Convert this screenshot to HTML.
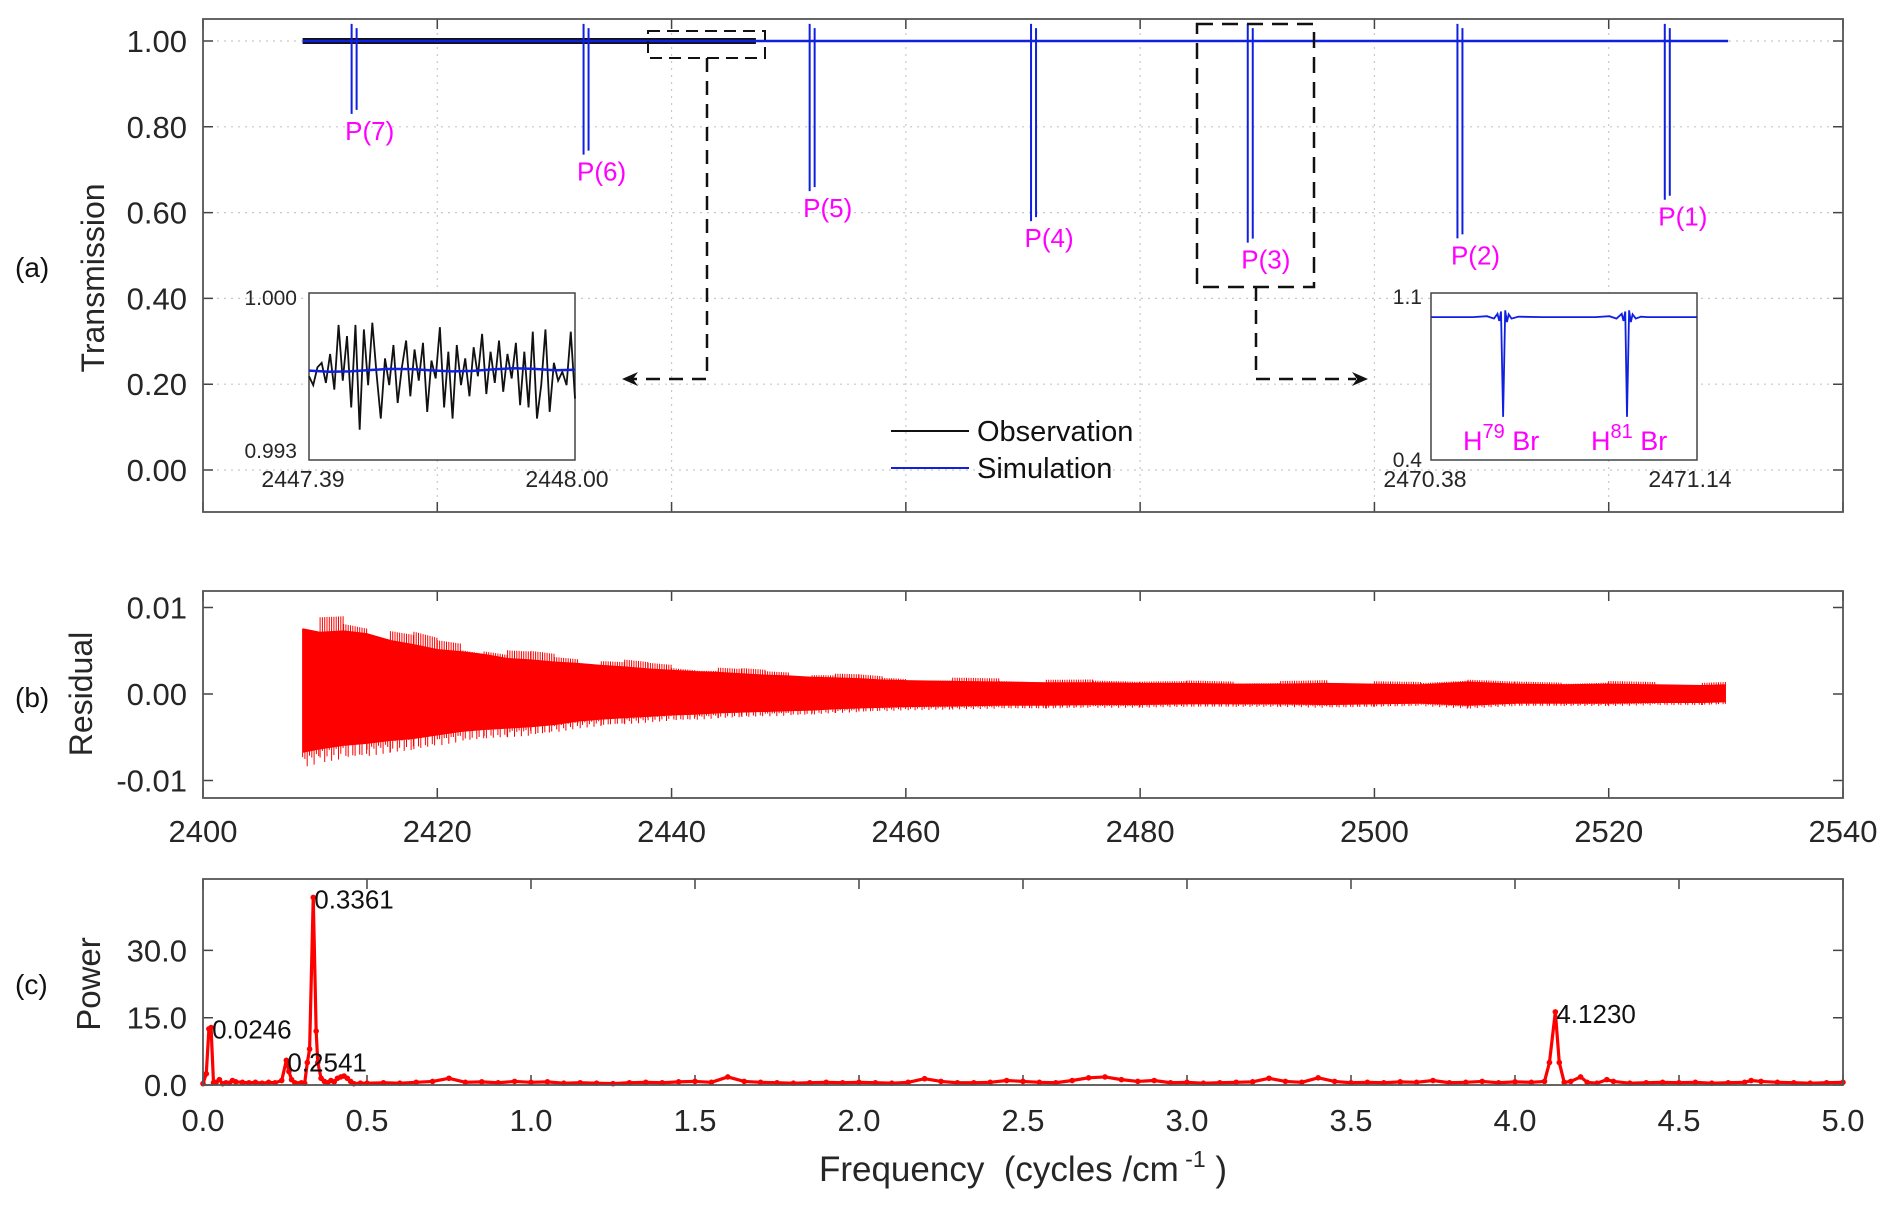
<!DOCTYPE html>
<html><head><meta charset="utf-8"><style>
html,body{margin:0;padding:0;background:#fff;}
svg{display:block;font-family:"Liberation Sans",Arial,sans-serif;}
</style></head><body>
<svg id="fig" width="1892" height="1207" viewBox="0 0 1892 1207" xmlns="http://www.w3.org/2000/svg">
<g id="g-a"></g>
<g id="g-b"></g>
<g id="g-c"></g>
</svg>
<script>
// ---------- Panel (a) data ----------
const lineLabels = ["P(7)","P(6)","P(5)","P(4)","P(3)","P(2)","P(1)"];
const lineFreqs = [2412.9, 2432.7, 2452.0, 2470.9, 2489.4, 2507.3, 2525.0];
const lineDepths = [0.83, 0.735, 0.65, 0.58, 0.53, 0.54, 0.63];
const obsRange = [2408.5, 2447.2];
const simRange = [2408.5, 2530.2];
const aYTicks = [0, 0.2, 0.4, 0.6, 0.8, 1.0];
const aYTickLabels = ["0.00","0.20","0.40","0.60","0.80","1.00"];
const xTicks = [2400,2420,2440,2460,2480,2500,2520,2540];
// inset left (observation vs simulation, 2447.39-2448.00)
const insL_obs = [0.9964,0.9960,0.9968,0.9970,0.9961,0.9974,0.9958,0.9987,0.9962,0.9982,0.9950,0.9987,0.9940,0.9985,0.9960,0.9988,0.9965,0.9945,0.9972,0.9960,0.9978,0.9952,0.9968,0.9980,0.9955,0.9976,0.9962,0.9979,0.9948,0.9971,0.9963,0.9986,0.9950,0.9975,0.9945,0.9978,0.9960,0.9972,0.9955,0.9977,0.9964,0.9983,0.9956,0.9975,0.9961,0.9980,0.9957,0.9974,0.9963,0.9979,0.9951,0.9975,0.9950,0.9984,0.9945,0.9960,0.9985,0.9948,0.9970,0.9962,0.9966,0.9960,0.9984,0.9954];
const insL_sim = [0.99665,0.99660,0.99662,0.99668,0.99673,0.99672,0.99666,0.99662,0.99664,0.99671,0.99676,0.99673,0.99667,0.99669];
// inset right (simulation P(3) doublet, 2470.38-2471.14)
const insR_f = [2470.38,2470.50,2470.54,2470.56,2470.570,2470.575,2470.580,2470.586,2470.592,2470.597,2470.602,2470.61,2470.63,2470.70,2470.85,2470.89,2470.91,2470.925,2470.930,2470.935,2470.940,2470.946,2470.951,2470.956,2470.965,2470.98,2471.00,2471.14];
const insR_v = [1.006,1.006,1.010,1.000,1.020,0.990,1.030,0.583,1.035,0.985,1.018,1.000,1.008,1.006,1.006,1.010,1.000,1.020,0.990,1.030,0.583,1.035,0.985,1.018,1.000,1.008,1.006,1.006];
// ---------- Panel (b) data: residual envelope ----------
const resFreqs = [2408.5,2410,2412,2414,2416,2418,2420,2422,2424,2426,2428,2430,2432,2434,2436,2438,2440,2442,2444,2446,2448,2450,2452,2454,2456,2458,2460,2464,2468,2472,2476,2480,2484,2488,2492,2496,2500,2504,2508,2512,2516,2520,2524,2528,2530];
const resUpper = [0.0095,0.0090,0.0092,0.0088,0.0078,0.0072,0.0065,0.0062,0.0058,0.0052,0.0050,0.0047,0.0045,0.0042,0.0040,0.0037,0.0035,0.0033,0.0032,0.0030,0.0028,0.0027,0.0025,0.0024,0.0023,0.0021,0.0020,0.0019,0.0018,0.0017,0.0017,0.0016,0.0016,0.0015,0.0015,0.0016,0.0015,0.0014,0.0018,0.0015,0.0014,0.0015,0.0014,0.0013,0.0014];
const resLower = [-0.0085,-0.0080,-0.0075,-0.0072,-0.0068,-0.0065,-0.0060,-0.0055,-0.0052,-0.0050,-0.0048,-0.0045,-0.0040,-0.0037,-0.0035,-0.0033,-0.0031,-0.0030,-0.0028,-0.0027,-0.0026,-0.0025,-0.0024,-0.0022,-0.0021,-0.0020,-0.0019,-0.0018,-0.0017,-0.0017,-0.0016,-0.0016,-0.0015,-0.0015,-0.0015,-0.0016,-0.0015,-0.0014,-0.0017,-0.0014,-0.0014,-0.0014,-0.0013,-0.0013,-0.0012];
const resCoreU = [0.0045,0.0042,0.0040,0.0038,0.0035,0.0032,0.0030,0.0028,0.0026,0.0024,0.0022,0.0021,0.0020,0.0019,0.0018,0.0017,0.0016,0.0015,0.0014,0.0014,0.0013,0.0012,0.0012,0.0011,0.0011,0.0010,0.0010,0.0009,0.0009,0.0009,0.0008,0.0008,0.0008,0.0008,0.0008,0.0008,0.0008,0.0007,0.0009,0.0007,0.0007,0.0007,0.0007,0.0007,0.0007];
const bYTicks = [-0.01, 0, 0.01];
const bYTickLabels = ["-0.01","0.00","0.01"];
const bXTickLabels = ["2400","2420","2440","2460","2480","2500","2520","2540"];
// ---------- Panel (c) data ----------
const powFreq = [0.00,0.01,0.018,0.0246,0.032,0.04,0.05,0.06,0.07,0.08,0.09,0.10,0.12,0.14,0.16,0.18,0.20,0.22,0.24,0.2541,0.262,0.27,0.28,0.30,0.31,0.318,0.325,0.3361,0.345,0.35,0.36,0.37,0.38,0.39,0.40,0.41,0.42,0.43,0.44,0.45,0.46,0.48,0.50,0.55,0.60,0.65,0.70,0.75,0.80,0.85,0.90,0.95,1.00,1.05,1.10,1.15,1.20,1.25,1.30,1.35,1.40,1.45,1.50,1.55,1.60,1.65,1.70,1.75,1.80,1.85,1.90,1.95,2.00,2.05,2.10,2.15,2.20,2.25,2.30,2.35,2.40,2.45,2.50,2.55,2.60,2.65,2.70,2.75,2.80,2.85,2.90,2.95,3.00,3.05,3.10,3.15,3.20,3.25,3.30,3.35,3.40,3.45,3.50,3.55,3.60,3.65,3.70,3.75,3.80,3.85,3.90,3.95,4.00,4.05,4.09,4.105,4.123,4.135,4.15,4.17,4.20,4.22,4.25,4.28,4.30,4.35,4.40,4.45,4.50,4.55,4.60,4.65,4.70,4.72,4.75,4.80,4.85,4.90,4.95,5.00];
const powVal = [0.3,2.5,12.5,12.8,0.5,0.6,1.2,0.3,0.5,0.4,1.0,0.7,0.6,0.5,0.6,0.4,0.6,0.5,1.0,5.5,3.0,1.2,0.5,0.5,0.4,5.0,8.0,41.8,12.0,5.0,1.5,0.8,0.5,1.0,0.7,1.5,1.8,2.0,1.5,0.8,0.3,0.4,0.4,0.5,0.4,0.6,0.8,1.5,0.6,0.7,0.5,0.8,0.6,0.7,0.4,0.5,0.4,0.3,0.5,0.6,0.5,0.7,0.8,0.6,1.8,0.8,0.6,0.5,0.4,0.5,0.6,0.5,0.6,0.5,0.4,0.6,1.4,0.8,0.5,0.5,0.6,1.0,0.8,0.6,0.5,1.0,1.6,1.8,1.2,0.8,1.0,0.5,0.6,0.4,0.5,0.6,0.7,1.5,0.8,0.6,1.6,0.8,0.5,0.6,0.5,0.7,0.6,1.0,0.5,0.6,0.8,0.5,0.7,0.6,0.8,5.0,16.3,5.0,0.6,0.8,1.8,0.6,0.4,1.2,0.8,0.4,0.5,0.6,0.5,0.6,0.4,0.5,0.6,1.0,0.8,0.6,0.5,0.4,0.5,0.6,0.9];
const powPeakLabels = ["0.0246","0.2541","0.3361","4.1230"];
const powPeakFreqs = [0.0246,0.2541,0.3361,4.123];
const powPeakVals = [12.8,5.5,41.8,16.3];
const cYTicks = [0,15,30];
const cYTickLabels = ["0.0","15.0","30.0"];
const cXTicks = [0,0.5,1,1.5,2,2.5,3,3.5,4,4.5,5];
const cXTickLabels = ["0.0","0.5","1.0","1.5","2.0","2.5","3.0","3.5","4.0","4.5","5.0"];

const NS="http://www.w3.org/2000/svg";
function mk(parent,tag,attrs,text){const e=document.createElementNS(NS,tag);for(const k in attrs)e.setAttribute(k,attrs[k]);if(text!==undefined)e.textContent=text;parent.appendChild(e);return e;}
const L=203,R=1843;
const TF=31;
const fx=f=>L+(f-2400)*(R-L)/140;
const gA=document.getElementById('g-a'),gB=document.getElementById('g-b'),gC=document.getElementById('g-c');

// ===== Panel a =====
const aTop=19,aBot=512;
const ay=v=>470-429*v;
for(const t of xTicks){ if(t>2400&&t<2540){let g=mk(gA,'line',{x1:fx(t),x2:fx(t),y1:aTop,y2:aBot,stroke:'#c8c8c8','stroke-width':1.2,'stroke-dasharray':'2,5'});

}
 let tk=mk(gA,'path',{d:`M${fx(t)},${aTop}v10M${fx(t)},${aBot}v-10`,stroke:'#444','stroke-width':1.5});
 
 }
aYTicks.forEach((v,i)=>{let g=mk(gA,'line',{x1:L,x2:R,y1:ay(v),y2:ay(v),stroke:'#c8c8c8','stroke-width':1.2,'stroke-dasharray':'2,5'});
 
 
 mk(gA,'path',{d:`M${L},${ay(v)}h10M${R},${ay(v)}h-10`,stroke:'#444','stroke-width':1.5});
 let t=mk(gA,'text',{x:187,y:ay(v)+11,'text-anchor':'end','font-size':TF,fill:'#262626'},aYTickLabels[i]);
 
 });
let obs=mk(gA,'line',{x1:fx(obsRange[0]),x2:fx(obsRange[1]),y1:ay(1.0),y2:ay(1.0),stroke:'#111','stroke-width':6});


let sim=mk(gA,'line',{x1:fx(simRange[0]),x2:fx(simRange[1]),y1:ay(1.0),y2:ay(1.0),stroke:'#1020e0','stroke-width':2.5});


lineFreqs.forEach((f,i)=>{const x=fx(f),yd=ay(lineDepths[i]);
 let g=mk(gA,'path',{d:`M${x-2.5},${ay(1.04)}V${yd}M${x+2.5},${ay(1.03)}V${yd-4}M${x-6},${ay(1)}h12`,stroke:'#1020e0','stroke-width':2,fill:'none'});
 
 
 let t=mk(gA,'text',{x:x-9,y:yd+26,'font-size':26,fill:'#ff00ff'},lineLabels[i]);
 
 });
let frA=mk(gA,'rect',{x:L,y:aTop,width:R-L,height:aBot-aTop,fill:'none',stroke:'#555','stroke-width':1.8});


let db1=mk(gA,'rect',{x:648,y:31,width:117,height:27,fill:'none',stroke:'#111','stroke-width':2,'stroke-dasharray':'12,7'});


mk(gA,'path',{d:'M707,58V379H632',fill:'none',stroke:'#111','stroke-width':2.5,'stroke-dasharray':'14,9'});
mk(gA,'path',{d:'M622,379l16,-7l-5,7l5,7z',fill:'#111'});
let db2=mk(gA,'rect',{x:1197,y:24,width:117,height:263,fill:'none',stroke:'#111','stroke-width':2.5,'stroke-dasharray':'16,9'});


mk(gA,'path',{d:'M1256,287V379H1356',fill:'none',stroke:'#111','stroke-width':2.5,'stroke-dasharray':'14,9'});
mk(gA,'path',{d:'M1368,379l-16,-7l5,7l-5,7z',fill:'#111'});
let lg=mk(gA,'g',{});


mk(lg,'line',{x1:891,x2:969,y1:431,y2:431,stroke:'#111','stroke-width':2});
mk(lg,'text',{x:977,y:441,'font-size':29,fill:'#111'},'Observation');
mk(lg,'line',{x1:891,x2:969,y1:468,y2:468,stroke:'#1020e0','stroke-width':2});
mk(lg,'text',{x:977,y:478,'font-size':29,fill:'#111'},'Simulation');
// inset left
{const x0=309,x1=575,y0=293,y1=460;
 const iy=v=>296+(1.0-v)/0.007*156;
 let g=mk(gA,'g',{});  
 mk(g,'rect',{x:x0,y:y0,width:x1-x0,height:y1-y0,fill:'#fff',stroke:'#444','stroke-width':1.5});
 const n=insL_obs.length;
 mk(g,'polyline',{points:insL_obs.map((v,i)=>`${x0+i*(x1-x0)/(n-1)},${iy(v)}`).join(' '),fill:'none',stroke:'#111','stroke-width':1.8});
 const m=insL_sim.length;
 mk(g,'polyline',{points:insL_sim.map((v,i)=>`${x0+i*(x1-x0)/(m-1)},${iy(v)}`).join(' '),fill:'none',stroke:'#1020e0','stroke-width':2.5});
 mk(g,'text',{x:297,y:305,'text-anchor':'end','font-size':21,fill:'#262626'},'1.000');
 mk(g,'text',{x:297,y:458,'text-anchor':'end','font-size':21,fill:'#262626'},'0.993');
 mk(g,'text',{x:303,y:487,'text-anchor':'middle','font-size':23,fill:'#262626'},'2447.39');
 mk(g,'text',{x:567,y:487,'text-anchor':'middle','font-size':23,fill:'#262626'},'2448.00');}
// inset right
{const x0=1431,x1=1697,y0=293,y1=460;
 const ix=f=>x0+(f-2470.38)/0.76*(x1-x0), iy=v=>295+(1.1-v)/0.7*165;
 let g=mk(gA,'g',{});  
 mk(g,'rect',{x:x0,y:y0,width:x1-x0,height:y1-y0,fill:'#fff',stroke:'#444','stroke-width':1.5});
 mk(g,'polyline',{points:insR_f.map((f,i)=>`${ix(f)},${iy(insR_v[i])}`).join(' '),fill:'none',stroke:'#1020e0','stroke-width':1.8});
 mk(g,'text',{x:1422,y:304,'text-anchor':'end','font-size':21,fill:'#262626'},'1.1');
 mk(g,'text',{x:1422,y:467,'text-anchor':'end','font-size':21,fill:'#262626'},'0.4');
 mk(g,'text',{x:1425,y:487,'text-anchor':'middle','font-size':23,fill:'#262626'},'2470.38');
 mk(g,'text',{x:1690,y:487,'text-anchor':'middle','font-size':23,fill:'#262626'},'2471.14');
 let t1=mk(g,'text',{x:1463,y:450,'font-size':27,fill:'#ff00ff'});
 t1.innerHTML='H<tspan dy="-12" font-size="20">79</tspan><tspan dy="12"> Br</tspan>';
 let t2=mk(g,'text',{x:1591,y:450,'font-size':27,fill:'#ff00ff'});
 t2.innerHTML='H<tspan dy="-12" font-size="20">81</tspan><tspan dy="12"> Br</tspan>';}
mk(gA,'text',{x:15,y:277,'font-size':28,fill:'#111'},'(a)');
let yla=mk(gA,'text',{x:0,y:0,'font-size':32,fill:'#262626','text-anchor':'middle',transform:'translate(104,278) rotate(-90)'},'Transmission');



// ===== Panel b =====
const bTop=591,bBot=798;
const by=v=>694-8650*v;
for(const t of xTicks){mk(gB,'path',{d:`M${fx(t)},${bTop}v10M${fx(t)},${bBot}v-10`,stroke:'#444','stroke-width':1.5});}
bYTicks.forEach((v,i)=>{mk(gB,'path',{d:`M${L},${by(v)}h10M${R},${by(v)}h-10`,stroke:'#444','stroke-width':1.5});
 let t=mk(gB,'text',{x:187,y:by(v)+11,'text-anchor':'end','font-size':TF,fill:'#262626'},bYTickLabels[i]);
 
 });
xTicks.forEach((t,i)=>{let e=mk(gB,'text',{x:fx(t),y:842,'text-anchor':'middle','font-size':TF,fill:'#262626'},bXTickLabels[i]);
 
 });
{let pts=resFreqs.map((f,i)=>`${fx(f)},${by(resUpper[i]*0.8)}`);
 for(let i=resFreqs.length-1;i>=0;i--)pts.push(`${fx(resFreqs[i])},${by(resLower[i]*0.8)}`);
 let band=mk(gB,'polygon',{points:pts.join(' '),fill:'#ff0000'});
 
 
 let z='';
 for(let i=0;i<resFreqs.length-1;i++){const x0=fx(resFreqs[i]),x1=fx(resFreqs[i+1]);
  for(let x=x0;x<x1;x+=2.3){const k=(x-x0)/(x1-x0);const u=resUpper[i]+(resUpper[i+1]-resUpper[i])*k,lo=resLower[i]+(resLower[i+1]-resLower[i])*k;
   const s=0.75+0.25*Math.abs(Math.sin(x*1.37));const s2=0.75+0.25*Math.abs(Math.cos(x*0.91));
   z+=`M${x.toFixed(1)},${by(u*s).toFixed(1)}V${by(lo*s2).toFixed(1)}`;}}
 let zz=mk(gB,'path',{d:z,fill:'none',stroke:'#ff0000','stroke-width':1});
 
 }
let frB=mk(gB,'rect',{x:L,y:bTop,width:R-L,height:bBot-bTop,fill:'none',stroke:'#555','stroke-width':1.8});


mk(gB,'text',{x:15,y:707,'font-size':28,fill:'#111'},'(b)');
let ylb=mk(gB,'text',{x:0,y:0,'font-size':32,fill:'#262626','text-anchor':'middle',transform:'translate(92,694) rotate(-90)'},'Residual');



// ===== Panel c =====
const cTop=879,cBot=1085;
const cx=f=>L+f*(R-L)/5, cy=v=>1085-v*67.3/15;
cXTicks.forEach((t,i)=>{mk(gC,'path',{d:`M${cx(t)},${cTop}v10M${cx(t)},${cBot}v-10`,stroke:'#444','stroke-width':1.5});
 let e=mk(gC,'text',{x:cx(t),y:1131,'text-anchor':'middle','font-size':TF,fill:'#262626'},cXTickLabels[i]);
 
 });
cYTicks.forEach((v,i)=>{mk(gC,'path',{d:`M${L},${cy(v)}h10M${R},${cy(v)}h-10`,stroke:'#444','stroke-width':1.5});
 let t=mk(gC,'text',{x:187,y:cy(v)+11,'text-anchor':'end','font-size':TF,fill:'#262626'},cYTickLabels[i]);
 
 });
{let pl=mk(gC,'polyline',{points:powFreq.map((f,i)=>`${cx(f)},${cy(powVal[i])}`).join(' '),fill:'none',stroke:'#ff0000','stroke-width':3.2,'stroke-linejoin':'round'});
 
 
 powFreq.forEach((f,i)=>{let c=mk(gC,'circle',{cx:cx(f),cy:cy(powVal[i]),r:2.8,fill:'#ff0000'});
  
  });
 powPeakFreqs.forEach((f,i)=>{let t=mk(gC,'text',{x:cx(f)+1,y:cy(powPeakVals[i])+11,'font-size':26,fill:'#111'},powPeakLabels[i]);
  
  });}
let frC=mk(gC,'rect',{x:L,y:cTop,width:R-L,height:cBot-cTop,fill:'none',stroke:'#555','stroke-width':1.8});


mk(gC,'text',{x:15,y:994,'font-size':28,fill:'#111'},'(c)');
let ylc=mk(gC,'text',{x:0,y:0,'font-size':33,fill:'#262626','text-anchor':'middle',transform:'translate(100,984) rotate(-90)'},'Power');


let xl=mk(gC,'text',{x:1023,y:1181,'text-anchor':'middle','font-size':35,fill:'#262626','xml:space':'preserve'});
xl.setAttribute('style','white-space:pre');
xl.innerHTML='Frequency  (cycles /cm<tspan dy="-14" font-size="23"> -1</tspan><tspan dy="14"> )</tspan>';


</script>
</body></html>
